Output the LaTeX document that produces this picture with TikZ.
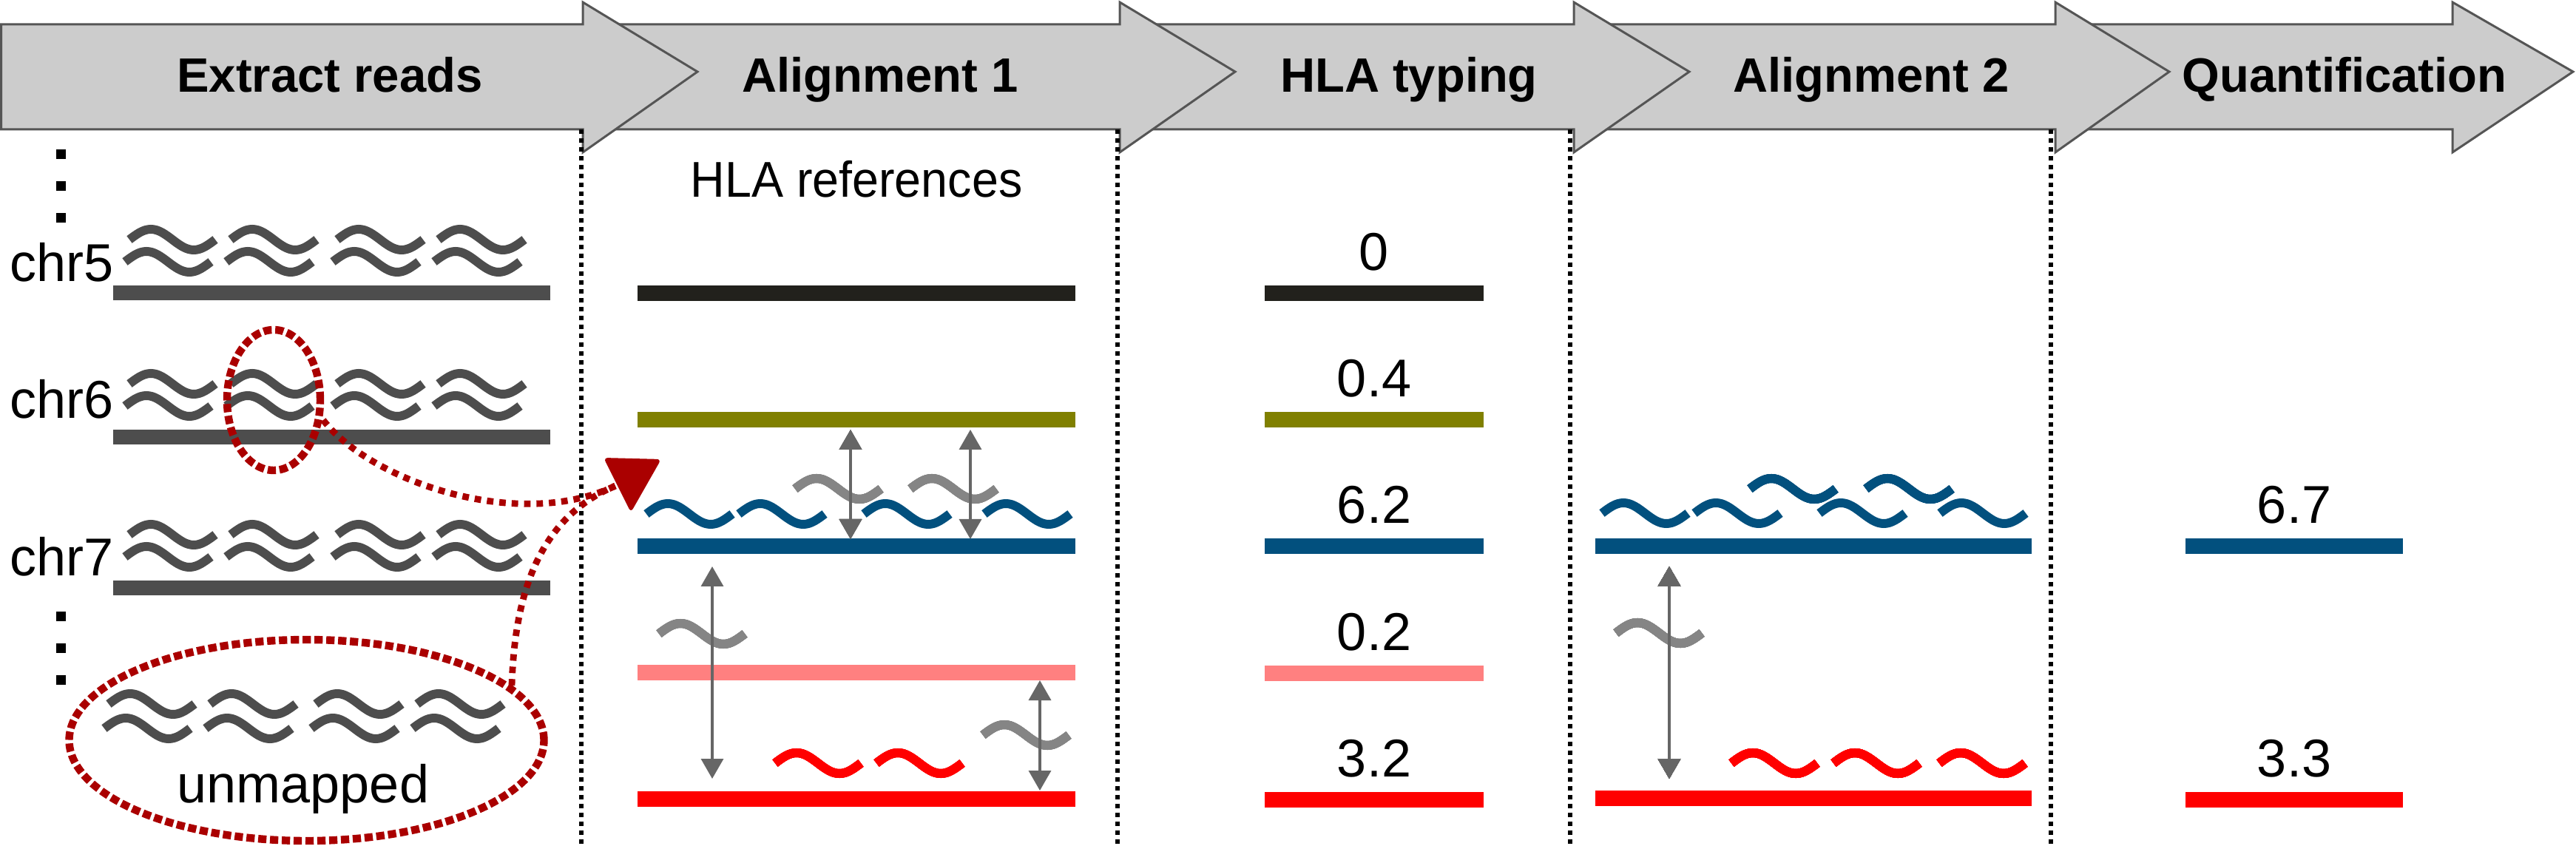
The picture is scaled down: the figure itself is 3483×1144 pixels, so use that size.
\documentclass[tikz,border=0pt]{standalone}
\usepackage{fontspec}
\setmainfont{Liberation Sans}
\usepackage{graphicx}
\usetikzlibrary{arrows.meta}
\definecolor{arrowfill}{HTML}{CCCCCC}
\definecolor{arrowline}{HTML}{555555}
\definecolor{chrgray}{HTML}{4D4D4D}
\definecolor{cblack}{HTML}{22211C}
\definecolor{colive}{HTML}{808000}
\definecolor{cblue}{HTML}{02507E}
\definecolor{cpink}{HTML}{FF8080}
\definecolor{cred}{HTML}{FF0000}
\definecolor{hlred}{HTML}{AA0000}
\definecolor{lgray}{HTML}{666666}
\definecolor{rgray}{HTML}{858585}
\newcommand\bigarr[3]{\draw[bigarrow] (#1,33) -- (#2,33) -- (#2,3) -- (#3,97) -- (#2,206) -- (#2,175) -- (#1,175) -- cycle;}
\newcommand\myread[4]{\draw[#4] (#1,#2) sin ++(29,-#3) cos ++(29,#3) sin ++(29,#3) cos ++(29,-#3);}
\tikzset{
  bigarrow/.style={fill=arrowfill, draw=arrowline, line width=0.75pt, line join=miter},
  steplabel/.style={font=\fontsize{16.3}{18}\selectfont\bfseries, anchor=base, inner sep=0pt},
  sepline/.style={draw=black, line width=1.5pt, dash pattern=on 1.6pt off 1.4pt},
  chrbar/.style={draw=chrgray, line width=5pt},
  refbar/.style={line width=5.25pt},
  chrread/.style={draw=chrgray, line width=3pt},
  rdline/.style={line width=3pt},
  linkarrow/.style={draw=lgray, line width=0.9pt, {Triangle[width=7.5pt,length=6.75pt]}-{Triangle[width=7.5pt,length=6.75pt]}},
  hlell/.style={draw=hlred, line width=2.6pt, dash pattern=on 2.8pt off 1.2pt},
  hlcurve/.style={draw=hlred, line width=2.2pt, dash pattern=on 2.2pt off 2pt},
  numlabel/.style={font=\fontsize{18}{20}\selectfont, anchor=base, inner sep=0pt},
  txtlabel/.style={font=\fontsize{18}{20}\selectfont, inner sep=0pt},
}
\begin{document}
\begin{tikzpicture}[x=0.25pt,y=-0.25pt]
\fill[white] (0,0) rectangle (3483,1144);
\useasboundingbox (0,0) rectangle (3483,1144);

% process arrows, drawn right to left
\bigarr{2781}{3316}{3479}
\bigarr{2130}{2779}{2933}
\bigarr{1516}{2128}{2284}
\bigarr{790}{1514}{1670}
\bigarr{1.5}{788}{943}

\node[steplabel] (s1) at (446,125) {Extract reads};
\node[steplabel] (s2) at (1190,125) {Alignment 1};
\node[steplabel] (s3) at (1905,125) {HLA typing};
\node[steplabel] (s4) at (2530,125) {Alignment 2};
\node[steplabel] (s5) at (3170,125) {Quantification};

% separators
\foreach \sx in {786,1511,2123,2773} \draw[sepline] (\sx,175) -- (\sx,1144);

% ---------- Extract reads ----------
\foreach \dy in {202,245,288,827,870,913} \fill (76,\dy) rectangle ++(13,13);
\node[txtlabel, anchor=base west] (chr5) at (13,381) {chr5};
\node[txtlabel, anchor=base west] (chr6) at (13,566) {chr6};
\node[txtlabel, anchor=base west] (chr7) at (13,779) {chr7};
\foreach \b in {396,591,795} {
  \draw[chrbar] (153,\b) -- (744,\b);
  \foreach \rx in {175,312,456,593} {
    \myread{\rx}{\b-72}{14}{chrread}
    \myread{\rx-6}{\b-42}{14}{chrread}
  }
}
\foreach \rx in {147,284,427,564} {
  \myread{\rx}{952}{14}{chrread}
  \myread{\rx-6}{985}{14}{chrread}
}
\node[txtlabel, anchor=base] (unm) at (410,1085) {unmapped};
\draw[hlell] (370,541) ellipse [x radius=15.75pt, y radius=23.75pt];
\draw[hlell] (414.5,1001) ellipse [x radius=80.25pt, y radius=34pt];
\draw[hlcurve] (437,568) .. controls (500,650) and (700,720) .. (832,657);
\draw[hlcurve] (692,927) .. controls (696,800) and (730,700) .. (832,657);
\fill[hlred, rounded corners=1.5pt] (816,619) -- (894,621) -- (853,693) -- cycle;

% ---------- Alignment 1 ----------
\node[font=\fontsize{17}{19}\selectfont, anchor=base, inner sep=0pt] (hlaref) at (1158,267) {\scalebox{0.95}[1]{HLA references}};
\draw[refbar, draw=cblack] (862,397) -- (1454,397);
\draw[refbar, draw=colive] (862,568) -- (1454,568);
\draw[refbar, draw=cblue] (862,739) -- (1454,739);
\draw[refbar, draw=cpink] (862,909) -- (1454,909);
\draw[refbar, draw=cred] (862,1080) -- (1454,1080);
\foreach \rx in {874,999,1168,1331} \myread{\rx}{695}{14}{rdline, draw=cblue}
\myread{1075}{661}{14}{rdline, draw=rgray}
\myread{1231}{661}{14}{rdline, draw=rgray}
\myread{891}{857}{14}{rdline, draw=rgray}
\myread{1329}{994}{14}{rdline, draw=rgray}
\myread{1048}{1032}{14}{rdline, draw=cred}
\myread{1185}{1032}{14}{rdline, draw=cred}
\draw[linkarrow] (1150,581) -- (1150,729);
\draw[linkarrow] (1312,581) -- (1312,729);
\draw[linkarrow] (963,766) -- (963,1053);
\draw[linkarrow] (1406,920) -- (1406,1069);

% ---------- HLA typing ----------
\draw[refbar, draw=cblack] (1710,397) -- (2006,397);
\draw[refbar, draw=colive] (1710,568) -- (2006,568);
\draw[refbar, draw=cblue] (1710,739) -- (2006,739);
\draw[refbar, draw=cpink] (1710,910) -- (2006,910);
\draw[refbar, draw=cred] (1710,1081) -- (2006,1081);
\node[numlabel] (n1) at (1858,366) {0};
\node[numlabel] (n2) at (1858,537) {0.4};
\node[numlabel] (n3) at (1858,708) {6.2};
\node[numlabel] (n4) at (1858,879) {0.2};
\node[numlabel] (n5) at (1858,1050) {3.2};

% ---------- Alignment 2 ----------
\draw[refbar, draw=cblue] (2157,739) -- (2747,739);
\draw[refbar, draw=cred] (2157,1079) -- (2747,1079);
\foreach \rx in {2166,2291,2460,2623} \myread{\rx}{694}{14}{rdline, draw=cblue}
\foreach \rx in {2366,2523} \myread{\rx}{661}{14}{rdline, draw=cblue}
\myread{2185}{856}{14}{rdline, draw=rgray}
\foreach \rx in {2341,2479,2622} \myread{\rx}{1032}{14}{rdline, draw=cred}
\draw[linkarrow] (2257,766) -- (2257,1053);

% ---------- Quantification ----------
\draw[refbar, draw=cblue] (2955,739) -- (3249,739);
\draw[refbar, draw=cred] (2955,1081) -- (3249,1081);
\node[numlabel] (q1) at (3102,708) {6.7};
\node[numlabel] (q2) at (3102,1050) {3.3};
\end{tikzpicture}
\end{document}
